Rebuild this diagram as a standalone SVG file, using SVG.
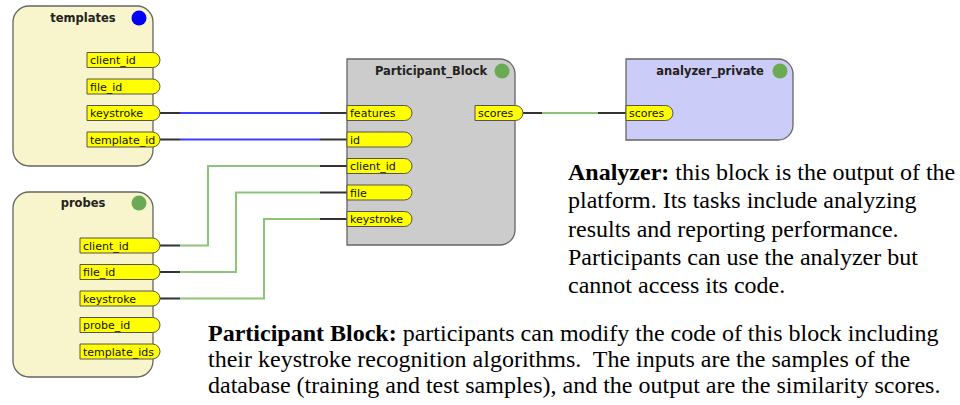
<svg xmlns="http://www.w3.org/2000/svg" width="960" height="405" viewBox="0 0 960 405">
<style>
.blk{stroke:#666;stroke-width:1.3}
.cream{fill:#f8f4cb}
.grey{fill:#cccccc}
.lav{fill:#ccccf8}
.title{font-family:"DejaVu Sans",sans-serif;font-weight:bold;font-size:11.5px;fill:#222;text-anchor:middle}
.port{fill:#ffff00;stroke:#555;stroke-width:1}
.pl{font-family:"DejaVu Sans",sans-serif;font-size:11px;fill:#111}
.stub{fill:none;stroke:#333;stroke-width:2}
.blue{fill:none;stroke:#3c3cff;stroke-width:2}
.green{fill:none;stroke:#8cc47a;stroke-width:2}
.para{font-family:"Liberation Serif","Times New Roman",serif;font-size:24px;fill:#000}
.b{font-weight:bold}
</style>
<rect width="960" height="405" fill="#ffffff"/>

<g id="connectors">
  <!-- templates.keystroke -> features -->
  <path class="stub" d="M160,113 H180 M320,113 H347"/>
  <path class="blue" d="M180,113 H320"/>
  <!-- templates.template_id -> id -->
  <path class="stub" d="M160,139.5 H180 M320,139.5 H347"/>
  <path class="blue" d="M180,139.5 H320"/>
  <!-- probes.client_id -> client_id -->
  <path class="stub" d="M160,245.5 H180 M320,166 H347"/>
  <path class="green" d="M180,245.5 H208 V166 H320"/>
  <!-- probes.file_id -> file -->
  <path class="stub" d="M160,272 H180 M320,192.5 H347"/>
  <path class="green" d="M180,272 H236 V192.5 H320"/>
  <!-- probes.keystroke -> keystroke -->
  <path class="stub" d="M160,298.5 H180 M320,219 H347"/>
  <path class="green" d="M180,298.5 H264 V219 H320"/>
  <!-- scores -> analyzer scores -->
  <path class="stub" d="M523,113 H542 M598,113 H626"/>
  <path class="green" d="M542,113 H598"/>
</g>

<g id="templates">
  <rect class="blk cream" x="13" y="6" width="140" height="160" rx="16"/>
  <text class="title" x="83" y="22">templates</text>
  <circle cx="139" cy="18" r="7.5" fill="#0000ff"/>
  <path class="port" d="M87,52.5 H152.5 A7.5,7.5 0 0 1 152.5,67.5 H87 Z"/>
  <text class="pl" x="90" y="64">client_id</text>
  <path class="port" d="M87,79 H152.5 A7.5,7.5 0 0 1 152.5,94 H87 Z"/>
  <text class="pl" x="90" y="90.5">file_id</text>
  <path class="port" d="M87,105.5 H152.5 A7.5,7.5 0 0 1 152.5,120.5 H87 Z"/>
  <text class="pl" x="90" y="117">keystroke</text>
  <path class="port" d="M87,132 H152.5 A7.5,7.5 0 0 1 152.5,147 H87 Z"/>
  <text class="pl" x="90" y="143.5">template_id</text>
</g>

<g id="probes">
  <rect class="blk cream" x="13" y="192" width="140" height="185" rx="16"/>
  <text class="title" x="83" y="207">probes</text>
  <circle cx="139" cy="203" r="7.5" fill="#6aaa55"/>
  <path class="port" d="M80,238 H152.5 A7.5,7.5 0 0 1 152.5,253 H80 Z"/>
  <text class="pl" x="83" y="249.5">client_id</text>
  <path class="port" d="M80,264.5 H152.5 A7.5,7.5 0 0 1 152.5,279.5 H80 Z"/>
  <text class="pl" x="83" y="276">file_id</text>
  <path class="port" d="M80,291 H152.5 A7.5,7.5 0 0 1 152.5,306 H80 Z"/>
  <text class="pl" x="83" y="302.5">keystroke</text>
  <path class="port" d="M80,317.5 H152.5 A7.5,7.5 0 0 1 152.5,332.5 H80 Z"/>
  <text class="pl" x="83" y="329">probe_id</text>
  <path class="port" d="M80,344 H152.5 A7.5,7.5 0 0 1 152.5,359 H80 Z"/>
  <text class="pl" x="83" y="355.5">template_ids</text>
</g>

<g id="participant_block">
  <path class="blk grey" d="M347,59 H500 A15,15 0 0 1 515,74 V230 A15,15 0 0 1 500,245 H347 Z"/>
  <text class="title" x="431" y="75">Participant_Block</text>
  <circle cx="502" cy="71" r="7.5" fill="#6aaa55"/>
  <path class="port" d="M347,105.5 H404.5 A7.5,7.5 0 0 1 404.5,120.5 H347 Z"/>
  <text class="pl" x="350" y="117">features</text>
  <path class="port" d="M347,132 H404.5 A7.5,7.5 0 0 1 404.5,147 H347 Z"/>
  <text class="pl" x="350" y="143.5">id</text>
  <path class="port" d="M347,158.5 H404.5 A7.5,7.5 0 0 1 404.5,173.5 H347 Z"/>
  <text class="pl" x="350" y="170">client_id</text>
  <path class="port" d="M347,185 H404.5 A7.5,7.5 0 0 1 404.5,200 H347 Z"/>
  <text class="pl" x="350" y="196.5">file</text>
  <path class="port" d="M347,211.5 H404.5 A7.5,7.5 0 0 1 404.5,226.5 H347 Z"/>
  <text class="pl" x="350" y="223">keystroke</text>
  <path class="port" d="M475,105.5 H515.5 A7.5,7.5 0 0 1 515.5,120.5 H475 Z"/>
  <text class="pl" x="478" y="117">scores</text>
</g>

<g id="analyzer_private">
  <path class="blk lav" d="M626,59 H778 A15,15 0 0 1 793,74 V125 A15,15 0 0 1 778,140 H626 Z"/>
  <text class="title" x="710" y="75">analyzer_private</text>
  <circle cx="780" cy="71" r="7.5" fill="#6aaa55"/>
  <path class="port" d="M626,105.5 H665.5 A7.5,7.5 0 0 1 665.5,120.5 H626 Z"/>
  <text class="pl" x="629" y="117">scores</text>
</g>

<g id="analyzer_note">
  <text class="para" x="568" y="180"><tspan class="b">Analyzer:</tspan> this block is the output of the</text>
  <text class="para" x="568" y="208">platform. Its tasks include analyzing</text>
  <text class="para" x="568" y="237">results and reporting performance.</text>
  <text class="para" x="568" y="265">Participants can use the analyzer but</text>
  <text class="para" x="568" y="293">cannot access its code.</text>
</g>

<g id="participant_note">
  <text class="para" x="208" y="341"><tspan class="b">Participant Block:</tspan> participants can modify the code of this block including</text>
  <text class="para" x="208" y="367">their keystroke recognition algorithms.&#160; The inputs are the samples of the</text>
  <text class="para" x="208" y="393">database (training and test samples), and the output are the similarity scores.</text>
</g>
</svg>
